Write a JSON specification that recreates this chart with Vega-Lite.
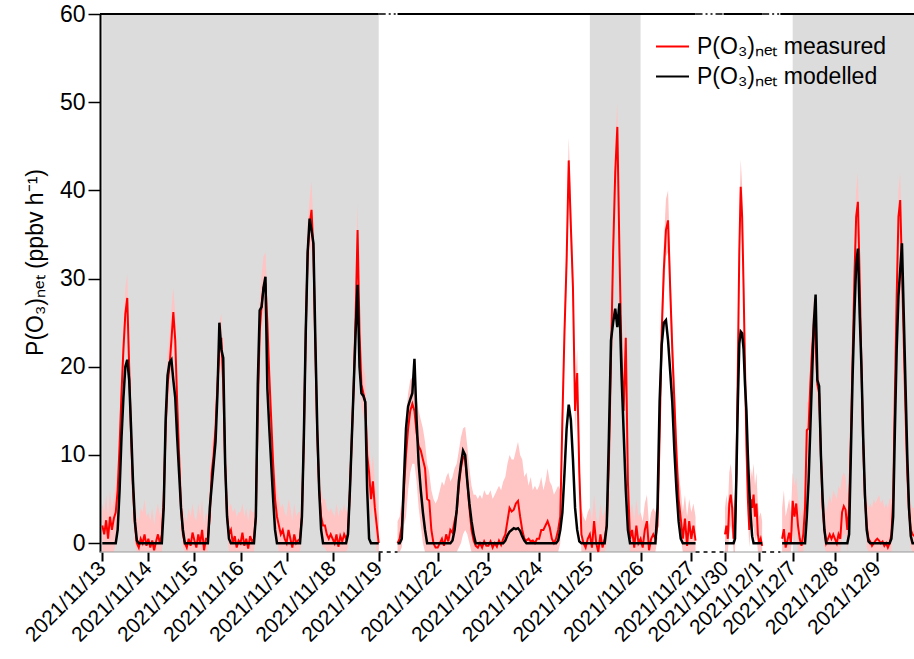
{
"$schema":"https://vega.github.io/schema/vega-lite/v6.json",
"width":814,"height":538,
"autosize":{"type":"none"},
"padding":{"left":100,"top":14,"right":0,"bottom":107},
"background":"white",
"config":{"view":{"stroke":null},"font":"Liberation Sans"},
"datasets":{
"shade":[{"t":"2021-11-13T00:00Z","t2":"2021-11-19T00:00Z"},{"t":"2021-11-25T00:00Z","t2":"2021-11-26T00:00Z"},{"t":"2021-12-07T00:00Z","t2":"2021-12-09T21:00Z"}],
"seg":[{"t":"2021-11-12T22:48Z","t2":"2021-11-19T00:00Z"},{"t":"2021-11-21T05:00Z","t2":"2021-11-27T02:00Z"},{"t":"2021-11-29T23:00Z","t2":"2021-12-01T02:00Z"},{"t":"2021-12-06T17:00Z","t2":"2021-12-09T21:00Z"}],
"gap":[{"t":"2021-11-19T00:00Z","t2":"2021-11-21T05:00Z"},{"t":"2021-11-27T02:00Z","t2":"2021-11-29T23:00Z"},{"t":"2021-12-01T02:00Z","t2":"2021-12-06T17:00Z"}],
"d":[
{"t":"2021-11-13T00:00Z","s":1,"m":2,"md":0,"lo":-1,"hi":4.5},
{"t":"2021-11-13T01:00Z","s":1,"m":1,"md":0,"lo":-1,"hi":3.5},
{"t":"2021-11-13T02:00Z","s":1,"m":2.6,"md":0,"lo":-1,"hi":5.5},
{"t":"2021-11-13T03:00Z","s":1,"m":0.5,"md":0,"lo":-1,"hi":3},
{"t":"2021-11-13T04:00Z","s":1,"m":3,"md":0,"lo":-1,"hi":6},
{"t":"2021-11-13T05:00Z","s":1,"m":1.5,"md":0,"lo":-1,"hi":4},
{"t":"2021-11-13T06:00Z","s":1,"m":2.8,"md":0,"lo":-1,"hi":5},
{"t":"2021-11-13T07:00Z","s":1,"m":3.5,"md":0,"lo":0,"hi":6.5},
{"t":"2021-11-13T08:00Z","s":1,"m":6,"md":1.5,"lo":3.5,"hi":9},
{"t":"2021-11-13T09:00Z","s":1,"m":11,"md":6,"lo":8.5,"hi":14},
{"t":"2021-11-13T10:00Z","s":1,"m":17,"md":12,"lo":14,"hi":20},
{"t":"2021-11-13T11:00Z","s":1,"m":22,"md":16.5,"lo":19,"hi":25},
{"t":"2021-11-13T12:00Z","s":1,"m":26,"md":20,"lo":23,"hi":29},
{"t":"2021-11-13T13:00Z","s":1,"m":27.8,"md":20.8,"lo":25,"hi":30.5},
{"t":"2021-11-13T14:00Z","s":1,"m":20,"md":18.5,"lo":17,"hi":23},
{"t":"2021-11-13T15:00Z","s":1,"m":12,"md":13,"lo":9.5,"hi":15},
{"t":"2021-11-13T16:00Z","s":1,"m":6,"md":7,"lo":4,"hi":9},
{"t":"2021-11-13T17:00Z","s":1,"m":2,"md":2.5,"lo":0,"hi":5},
{"t":"2021-11-13T18:00Z","s":1,"m":0,"md":0.3,"lo":-1,"hi":3},
{"t":"2021-11-13T19:00Z","s":1,"m":-0.5,"md":0,"lo":-1,"hi":2.5},
{"t":"2021-11-13T20:00Z","s":1,"m":0.5,"md":0,"lo":-1,"hi":4},
{"t":"2021-11-13T21:00Z","s":1,"m":0,"md":0,"lo":-1,"hi":3.5},
{"t":"2021-11-13T22:00Z","s":1,"m":1,"md":0,"lo":-1,"hi":5},
{"t":"2021-11-13T23:00Z","s":1,"m":-0.3,"md":0,"lo":-1,"hi":3},
{"t":"2021-11-14T00:00Z","s":1,"m":0.5,"md":0,"lo":-1,"hi":3.5},
{"t":"2021-11-14T01:00Z","s":1,"m":-0.5,"md":0,"lo":-1,"hi":2.5},
{"t":"2021-11-14T02:00Z","s":1,"m":0.3,"md":0,"lo":-1,"hi":4},
{"t":"2021-11-14T03:00Z","s":1,"m":-0.8,"md":0,"lo":-1,"hi":2},
{"t":"2021-11-14T04:00Z","s":1,"m":0.2,"md":0,"lo":-1,"hi":3.5},
{"t":"2021-11-14T05:00Z","s":1,"m":1,"md":0,"lo":-1,"hi":4.5},
{"t":"2021-11-14T06:00Z","s":1,"m":0,"md":0,"lo":-1,"hi":3},
{"t":"2021-11-14T07:00Z","s":1,"m":1,"md":0,"lo":-1,"hi":4},
{"t":"2021-11-14T08:00Z","s":1,"m":5,"md":4,"lo":3,"hi":8},
{"t":"2021-11-14T09:00Z","s":1,"m":13,"md":14,"lo":11,"hi":16},
{"t":"2021-11-14T10:00Z","s":1,"m":18,"md":19,"lo":15.5,"hi":21.5},
{"t":"2021-11-14T11:00Z","s":1,"m":20,"md":20.5,"lo":17,"hi":23.5},
{"t":"2021-11-14T12:00Z","s":1,"m":23,"md":20.8,"lo":20,"hi":26.5},
{"t":"2021-11-14T13:00Z","s":1,"m":26.2,"md":18.5,"lo":23,"hi":29},
{"t":"2021-11-14T14:00Z","s":1,"m":23,"md":16.5,"lo":20,"hi":26},
{"t":"2021-11-14T15:00Z","s":1,"m":16,"md":12,"lo":13.5,"hi":19},
{"t":"2021-11-14T16:00Z","s":1,"m":10,"md":8,"lo":8,"hi":13},
{"t":"2021-11-14T17:00Z","s":1,"m":4,"md":4,"lo":2.5,"hi":7},
{"t":"2021-11-14T18:00Z","s":1,"m":1,"md":1.5,"lo":-0.5,"hi":4},
{"t":"2021-11-14T19:00Z","s":1,"m":0,"md":0,"lo":-1,"hi":3},
{"t":"2021-11-14T20:00Z","s":1,"m":-0.5,"md":0,"lo":-1,"hi":2.5},
{"t":"2021-11-14T21:00Z","s":1,"m":0.5,"md":0,"lo":-1,"hi":4},
{"t":"2021-11-14T22:00Z","s":1,"m":-0.3,"md":0,"lo":-1,"hi":3},
{"t":"2021-11-14T23:00Z","s":1,"m":1.2,"md":0,"lo":-1,"hi":4.5},
{"t":"2021-11-15T00:00Z","s":1,"m":0.3,"md":0,"lo":-1,"hi":3},
{"t":"2021-11-15T01:00Z","s":1,"m":-0.5,"md":0,"lo":-1,"hi":2.5},
{"t":"2021-11-15T02:00Z","s":1,"m":1,"md":0,"lo":-1,"hi":4.5},
{"t":"2021-11-15T03:00Z","s":1,"m":0,"md":0,"lo":-1,"hi":3},
{"t":"2021-11-15T04:00Z","s":1,"m":1.5,"md":0,"lo":-1,"hi":5},
{"t":"2021-11-15T05:00Z","s":1,"m":-0.8,"md":0,"lo":-1,"hi":2},
{"t":"2021-11-15T06:00Z","s":1,"m":0.5,"md":0,"lo":-1,"hi":3.5},
{"t":"2021-11-15T07:00Z","s":1,"m":0.5,"md":0,"lo":-1,"hi":3},
{"t":"2021-11-15T08:00Z","s":1,"m":3,"md":4,"lo":1.5,"hi":6},
{"t":"2021-11-15T09:00Z","s":1,"m":8,"md":6.5,"lo":6,"hi":11},
{"t":"2021-11-15T10:00Z","s":1,"m":10,"md":9,"lo":8,"hi":13},
{"t":"2021-11-15T11:00Z","s":1,"m":13,"md":11.5,"lo":11,"hi":16},
{"t":"2021-11-15T12:00Z","s":1,"m":18,"md":17,"lo":15.5,"hi":21},
{"t":"2021-11-15T13:00Z","s":1,"m":22,"md":25,"lo":19,"hi":25},
{"t":"2021-11-15T14:00Z","s":1,"m":23.3,"md":22,"lo":20.5,"hi":26},
{"t":"2021-11-15T15:00Z","s":1,"m":18,"md":21,"lo":15.5,"hi":21},
{"t":"2021-11-15T16:00Z","s":1,"m":9,"md":9,"lo":7,"hi":12},
{"t":"2021-11-15T17:00Z","s":1,"m":3,"md":3,"lo":1,"hi":6},
{"t":"2021-11-15T18:00Z","s":1,"m":1,"md":0.5,"lo":-1,"hi":4},
{"t":"2021-11-15T19:00Z","s":1,"m":1.5,"md":0,"lo":-1,"hi":4.5},
{"t":"2021-11-15T20:00Z","s":1,"m":0,"md":0,"lo":-1,"hi":3.5},
{"t":"2021-11-15T21:00Z","s":1,"m":0.8,"md":0,"lo":-1,"hi":4},
{"t":"2021-11-15T22:00Z","s":1,"m":-0.5,"md":0,"lo":-1,"hi":3},
{"t":"2021-11-15T23:00Z","s":1,"m":0.3,"md":0,"lo":-1,"hi":3.5},
{"t":"2021-11-16T00:00Z","s":1,"m":0,"md":0,"lo":-1,"hi":3.5},
{"t":"2021-11-16T01:00Z","s":1,"m":1.2,"md":0,"lo":-1,"hi":4.5},
{"t":"2021-11-16T02:00Z","s":1,"m":-0.3,"md":0,"lo":-1,"hi":3},
{"t":"2021-11-16T03:00Z","s":1,"m":0.5,"md":0,"lo":-1,"hi":4},
{"t":"2021-11-16T04:00Z","s":1,"m":-0.6,"md":0,"lo":-1,"hi":2.5},
{"t":"2021-11-16T05:00Z","s":1,"m":0.8,"md":0,"lo":-1,"hi":4},
{"t":"2021-11-16T06:00Z","s":1,"m":0.2,"md":0,"lo":-1,"hi":3.5},
{"t":"2021-11-16T07:00Z","s":1,"m":0.5,"md":0,"lo":-1,"hi":3.5},
{"t":"2021-11-16T08:00Z","s":1,"m":3,"md":3,"lo":1.5,"hi":6},
{"t":"2021-11-16T09:00Z","s":1,"m":15,"md":18,"lo":12.5,"hi":18},
{"t":"2021-11-16T10:00Z","s":1,"m":24,"md":26.4,"lo":21,"hi":27.5},
{"t":"2021-11-16T11:00Z","s":1,"m":27,"md":26.8,"lo":24,"hi":30.5},
{"t":"2021-11-16T12:00Z","s":1,"m":29,"md":29,"lo":26,"hi":32.5},
{"t":"2021-11-16T13:00Z","s":1,"m":29.5,"md":30.2,"lo":26.5,"hi":33},
{"t":"2021-11-16T14:00Z","s":1,"m":25,"md":17.5,"lo":22,"hi":28},
{"t":"2021-11-16T15:00Z","s":1,"m":19,"md":13,"lo":16.5,"hi":22},
{"t":"2021-11-16T16:00Z","s":1,"m":14,"md":9,"lo":11.5,"hi":17},
{"t":"2021-11-16T17:00Z","s":1,"m":9,"md":5,"lo":7,"hi":12},
{"t":"2021-11-16T18:00Z","s":1,"m":5,"md":1.5,"lo":3,"hi":8},
{"t":"2021-11-16T19:00Z","s":1,"m":3,"md":0,"lo":0.5,"hi":6},
{"t":"2021-11-16T20:00Z","s":1,"m":2,"md":0,"lo":-1,"hi":5},
{"t":"2021-11-16T21:00Z","s":1,"m":1,"md":0,"lo":-1,"hi":4},
{"t":"2021-11-16T22:00Z","s":1,"m":1.5,"md":0,"lo":-1,"hi":4.5},
{"t":"2021-11-16T23:00Z","s":1,"m":0.5,"md":0,"lo":-1,"hi":3.5},
{"t":"2021-11-17T00:00Z","s":1,"m":0,"md":0,"lo":-1,"hi":3},
{"t":"2021-11-17T01:00Z","s":1,"m":1.5,"md":0,"lo":-1,"hi":5},
{"t":"2021-11-17T02:00Z","s":1,"m":0.5,"md":0,"lo":-1,"hi":4},
{"t":"2021-11-17T03:00Z","s":1,"m":-0.5,"md":0,"lo":-1,"hi":2.5},
{"t":"2021-11-17T04:00Z","s":1,"m":1,"md":0,"lo":-1,"hi":4.5},
{"t":"2021-11-17T05:00Z","s":1,"m":0,"md":0,"lo":-1,"hi":3},
{"t":"2021-11-17T06:00Z","s":1,"m":0.3,"md":0,"lo":-1,"hi":3.5},
{"t":"2021-11-17T07:00Z","s":1,"m":0.5,"md":0,"lo":-1,"hi":3.5},
{"t":"2021-11-17T08:00Z","s":1,"m":3,"md":3,"lo":1,"hi":6},
{"t":"2021-11-17T09:00Z","s":1,"m":12,"md":12,"lo":10,"hi":15},
{"t":"2021-11-17T10:00Z","s":1,"m":24,"md":24,"lo":21,"hi":27},
{"t":"2021-11-17T11:00Z","s":1,"m":33,"md":33,"lo":29.5,"hi":36.5},
{"t":"2021-11-17T12:00Z","s":1,"m":36,"md":36.8,"lo":32.5,"hi":39},
{"t":"2021-11-17T13:00Z","s":1,"m":37.8,"md":35.5,"lo":34,"hi":41},
{"t":"2021-11-17T14:00Z","s":1,"m":33,"md":34,"lo":29.5,"hi":36},
{"t":"2021-11-17T15:00Z","s":1,"m":22,"md":23,"lo":19,"hi":25},
{"t":"2021-11-17T16:00Z","s":1,"m":12,"md":13,"lo":10,"hi":15},
{"t":"2021-11-17T17:00Z","s":1,"m":6,"md":6,"lo":4,"hi":9},
{"t":"2021-11-17T18:00Z","s":1,"m":3,"md":1.5,"lo":1,"hi":6},
{"t":"2021-11-17T19:00Z","s":1,"m":2,"md":0,"lo":-0.5,"hi":5},
{"t":"2021-11-17T20:00Z","s":1,"m":2,"md":0,"lo":-0.5,"hi":5},
{"t":"2021-11-17T21:00Z","s":1,"m":1,"md":0,"lo":-1,"hi":4},
{"t":"2021-11-17T22:00Z","s":1,"m":0.5,"md":0,"lo":-1,"hi":3.5},
{"t":"2021-11-17T23:00Z","s":1,"m":1,"md":0,"lo":-1,"hi":4},
{"t":"2021-11-18T00:00Z","s":1,"m":0.5,"md":0,"lo":-1,"hi":3.5},
{"t":"2021-11-18T01:00Z","s":1,"m":0,"md":0,"lo":-1,"hi":3},
{"t":"2021-11-18T02:00Z","s":1,"m":1,"md":0,"lo":-1,"hi":4.5},
{"t":"2021-11-18T03:00Z","s":1,"m":-0.4,"md":0,"lo":-1,"hi":3},
{"t":"2021-11-18T04:00Z","s":1,"m":0.8,"md":0,"lo":-1,"hi":4},
{"t":"2021-11-18T05:00Z","s":1,"m":0.2,"md":0,"lo":-1,"hi":3.5},
{"t":"2021-11-18T06:00Z","s":1,"m":1,"md":0,"lo":-1,"hi":4.5},
{"t":"2021-11-18T07:00Z","s":1,"m":0.5,"md":0,"lo":-1,"hi":3.5},
{"t":"2021-11-18T08:00Z","s":1,"m":1,"md":1,"lo":-0.5,"hi":4},
{"t":"2021-11-18T09:00Z","s":1,"m":6,"md":6,"lo":4,"hi":9},
{"t":"2021-11-18T10:00Z","s":1,"m":12,"md":12,"lo":10,"hi":15},
{"t":"2021-11-18T11:00Z","s":1,"m":18,"md":18,"lo":15.5,"hi":21.5},
{"t":"2021-11-18T12:00Z","s":1,"m":26,"md":24,"lo":22.5,"hi":29},
{"t":"2021-11-18T13:00Z","s":1,"m":35.5,"md":29.3,"lo":31,"hi":38.5},
{"t":"2021-11-18T14:00Z","s":1,"m":24,"md":20,"lo":21,"hi":27},
{"t":"2021-11-18T15:00Z","s":1,"m":18,"md":17,"lo":15.5,"hi":21},
{"t":"2021-11-18T16:00Z","s":1,"m":17,"md":16.7,"lo":14.5,"hi":20},
{"t":"2021-11-18T17:00Z","s":1,"m":16,"md":16,"lo":13.5,"hi":19},
{"t":"2021-11-18T18:00Z","s":1,"m":10,"md":6,"lo":7.5,"hi":13},
{"t":"2021-11-18T19:00Z","s":1,"m":8,"md":0.5,"lo":5.5,"hi":11},
{"t":"2021-11-18T20:00Z","s":1,"m":5,"md":0,"lo":2.5,"hi":8},
{"t":"2021-11-18T21:00Z","s":1,"m":7,"md":0,"lo":4.5,"hi":10},
{"t":"2021-11-18T22:00Z","s":1,"m":4,"md":0,"lo":1.5,"hi":7},
{"t":"2021-11-18T23:00Z","s":1,"m":2,"md":0,"lo":-1,"hi":5},
{"t":"2021-11-19T00:00Z","s":1,"m":0,"md":0,"lo":-1,"hi":3},
{"t":"2021-11-21T05:00Z","s":2,"m":0,"md":0,"lo":-1,"hi":2.5},
{"t":"2021-11-21T06:00Z","s":2,"m":0.5,"md":0,"lo":-1,"hi":3},
{"t":"2021-11-21T07:00Z","s":2,"m":2,"md":0.5,"lo":-0.5,"hi":5},
{"t":"2021-11-21T08:00Z","s":2,"m":6,"md":7,"lo":2,"hi":10},
{"t":"2021-11-21T09:00Z","s":2,"m":10,"md":13,"lo":3,"hi":14.5},
{"t":"2021-11-21T10:00Z","s":2,"m":13,"md":15.5,"lo":6,"hi":17},
{"t":"2021-11-21T11:00Z","s":2,"m":15,"md":16.3,"lo":8,"hi":18.5},
{"t":"2021-11-21T12:00Z","s":2,"m":15.8,"md":17,"lo":9,"hi":18.8},
{"t":"2021-11-21T13:00Z","s":2,"m":15,"md":20.9,"lo":9,"hi":18.5},
{"t":"2021-11-21T14:00Z","s":2,"m":12.5,"md":14,"lo":7,"hi":16.5},
{"t":"2021-11-21T15:00Z","s":2,"m":11,"md":9,"lo":4,"hi":15},
{"t":"2021-11-21T16:00Z","s":2,"m":10.5,"md":6,"lo":2,"hi":14},
{"t":"2021-11-21T17:00Z","s":2,"m":9.5,"md":3.5,"lo":0,"hi":13},
{"t":"2021-11-21T18:00Z","s":2,"m":8.5,"md":1.5,"lo":-1,"hi":11.5},
{"t":"2021-11-21T19:00Z","s":2,"m":5,"md":0,"lo":-1,"hi":9},
{"t":"2021-11-21T20:00Z","s":2,"m":4.8,"md":0,"lo":-1,"hi":8},
{"t":"2021-11-21T21:00Z","s":2,"m":1.5,"md":0,"lo":-1,"hi":6},
{"t":"2021-11-21T22:00Z","s":2,"m":0,"md":0,"lo":-1,"hi":5},
{"t":"2021-11-21T23:00Z","s":2,"m":-0.5,"md":0,"lo":-1,"hi":4.5},
{"t":"2021-11-22T00:00Z","s":2,"m":-0.5,"md":0,"lo":-1,"hi":5},
{"t":"2021-11-22T01:00Z","s":2,"m":0,"md":0,"lo":-1,"hi":6},
{"t":"2021-11-22T02:00Z","s":2,"m":0.5,"md":0,"lo":-1,"hi":7},
{"t":"2021-11-22T03:00Z","s":2,"m":-0.3,"md":0,"lo":-1,"hi":6.5},
{"t":"2021-11-22T04:00Z","s":2,"m":1,"md":0,"lo":-1,"hi":7.5},
{"t":"2021-11-22T05:00Z","s":2,"m":0.2,"md":0,"lo":-1,"hi":8},
{"t":"2021-11-22T06:00Z","s":2,"m":1.5,"md":0,"lo":-1,"hi":7},
{"t":"2021-11-22T07:00Z","s":2,"m":1.2,"md":0.3,"lo":-1,"hi":7.5},
{"t":"2021-11-22T08:00Z","s":2,"m":2.5,"md":1.5,"lo":-1,"hi":8.5},
{"t":"2021-11-22T09:00Z","s":2,"m":3.5,"md":3.8,"lo":-1,"hi":9},
{"t":"2021-11-22T10:00Z","s":2,"m":6.5,"md":7,"lo":-0.5,"hi":10.5},
{"t":"2021-11-22T11:00Z","s":2,"m":8.5,"md":9,"lo":0,"hi":12},
{"t":"2021-11-22T12:00Z","s":2,"m":9.8,"md":10.5,"lo":1,"hi":13},
{"t":"2021-11-22T13:00Z","s":2,"m":9.5,"md":10,"lo":1.5,"hi":13.2},
{"t":"2021-11-22T14:00Z","s":2,"m":7,"md":7,"lo":1,"hi":11},
{"t":"2021-11-22T15:00Z","s":2,"m":4,"md":4.5,"lo":0,"hi":8.5},
{"t":"2021-11-22T16:00Z","s":2,"m":1.5,"md":2.5,"lo":-1,"hi":6.5},
{"t":"2021-11-22T17:00Z","s":2,"m":0.3,"md":1,"lo":-1,"hi":5.5},
{"t":"2021-11-22T18:00Z","s":2,"m":-0.3,"md":0,"lo":-1,"hi":5.5},
{"t":"2021-11-22T19:00Z","s":2,"m":-0.5,"md":0,"lo":-1,"hi":5},
{"t":"2021-11-22T20:00Z","s":2,"m":0,"md":0,"lo":-1,"hi":5.5},
{"t":"2021-11-22T21:00Z","s":2,"m":-0.5,"md":0,"lo":-1,"hi":5},
{"t":"2021-11-22T22:00Z","s":2,"m":0.2,"md":0,"lo":-1,"hi":6},
{"t":"2021-11-22T23:00Z","s":2,"m":-0.3,"md":0,"lo":-1,"hi":5.5},
{"t":"2021-11-23T00:00Z","s":2,"m":-0.3,"md":0,"lo":-1,"hi":5.5},
{"t":"2021-11-23T01:00Z","s":2,"m":0.2,"md":0,"lo":-1,"hi":6},
{"t":"2021-11-23T02:00Z","s":2,"m":-0.5,"md":0,"lo":-1,"hi":5},
{"t":"2021-11-23T03:00Z","s":2,"m":0,"md":0,"lo":-1,"hi":5.5},
{"t":"2021-11-23T04:00Z","s":2,"m":-0.4,"md":0,"lo":-1,"hi":6},
{"t":"2021-11-23T05:00Z","s":2,"m":0.3,"md":0,"lo":-1,"hi":6.5},
{"t":"2021-11-23T06:00Z","s":2,"m":-0.2,"md":0,"lo":-1,"hi":6},
{"t":"2021-11-23T07:00Z","s":2,"m":0.5,"md":0,"lo":-1,"hi":7},
{"t":"2021-11-23T08:00Z","s":2,"m":1,"md":0.3,"lo":-1,"hi":7.5},
{"t":"2021-11-23T09:00Z","s":2,"m":2.5,"md":0.9,"lo":-1,"hi":9},
{"t":"2021-11-23T10:00Z","s":2,"m":4,"md":1.3,"lo":-1,"hi":10},
{"t":"2021-11-23T11:00Z","s":2,"m":3.6,"md":1.5,"lo":-1,"hi":9.5},
{"t":"2021-11-23T12:00Z","s":2,"m":3.8,"md":1.7,"lo":-1,"hi":9.5},
{"t":"2021-11-23T13:00Z","s":2,"m":4.5,"md":1.6,"lo":-1,"hi":10.5},
{"t":"2021-11-23T14:00Z","s":2,"m":4.8,"md":1.7,"lo":-1,"hi":11.5},
{"t":"2021-11-23T15:00Z","s":2,"m":3,"md":1.4,"lo":-1,"hi":10},
{"t":"2021-11-23T16:00Z","s":2,"m":1.5,"md":0.8,"lo":-1,"hi":9.5},
{"t":"2021-11-23T17:00Z","s":2,"m":0.5,"md":0.3,"lo":-1,"hi":7.5},
{"t":"2021-11-23T18:00Z","s":2,"m":0.3,"md":0,"lo":-1,"hi":8},
{"t":"2021-11-23T19:00Z","s":2,"m":0.5,"md":0,"lo":-1,"hi":6.5},
{"t":"2021-11-23T20:00Z","s":2,"m":0.2,"md":0,"lo":-1,"hi":7.5},
{"t":"2021-11-23T21:00Z","s":2,"m":0.3,"md":0,"lo":-1,"hi":6},
{"t":"2021-11-23T22:00Z","s":2,"m":0,"md":0,"lo":-1,"hi":6.5},
{"t":"2021-11-23T23:00Z","s":2,"m":0.5,"md":0,"lo":-1,"hi":6},
{"t":"2021-11-24T00:00Z","s":2,"m":0.5,"md":0,"lo":-1,"hi":6.5},
{"t":"2021-11-24T01:00Z","s":2,"m":1.5,"md":0,"lo":-1,"hi":7.5},
{"t":"2021-11-24T02:00Z","s":2,"m":1.5,"md":0,"lo":-1,"hi":6},
{"t":"2021-11-24T03:00Z","s":2,"m":2,"md":0,"lo":-1,"hi":7},
{"t":"2021-11-24T04:00Z","s":2,"m":2.5,"md":0,"lo":-1,"hi":8.5},
{"t":"2021-11-24T05:00Z","s":2,"m":1.8,"md":0,"lo":-1,"hi":7},
{"t":"2021-11-24T06:00Z","s":2,"m":0.5,"md":0,"lo":-1,"hi":6.5},
{"t":"2021-11-24T07:00Z","s":2,"m":0,"md":0,"lo":-1,"hi":5.5},
{"t":"2021-11-24T08:00Z","s":2,"m":0.5,"md":0,"lo":-1,"hi":6},
{"t":"2021-11-24T09:00Z","s":2,"m":1.5,"md":0.3,"lo":-1,"hi":6.5},
{"t":"2021-11-24T10:00Z","s":2,"m":3,"md":1.5,"lo":0,"hi":6},
{"t":"2021-11-24T11:00Z","s":2,"m":14,"md":3.5,"lo":11.5,"hi":17},
{"t":"2021-11-24T12:00Z","s":2,"m":24,"md":8,"lo":21.5,"hi":27},
{"t":"2021-11-24T13:00Z","s":2,"m":32,"md":13,"lo":29,"hi":35},
{"t":"2021-11-24T14:00Z","s":2,"m":43.4,"md":15.7,"lo":40,"hi":46},
{"t":"2021-11-24T15:00Z","s":2,"m":36,"md":14,"lo":33,"hi":39},
{"t":"2021-11-24T16:00Z","s":2,"m":29,"md":9.5,"lo":26,"hi":32},
{"t":"2021-11-24T17:00Z","s":2,"m":15,"md":4,"lo":12.5,"hi":18},
{"t":"2021-11-24T18:00Z","s":2,"m":19.3,"md":1.5,"lo":16.5,"hi":22},
{"t":"2021-11-24T19:00Z","s":2,"m":8,"md":0.2,"lo":6,"hi":11},
{"t":"2021-11-24T20:00Z","s":2,"m":1,"md":0,"lo":-1,"hi":4},
{"t":"2021-11-24T21:00Z","s":2,"m":0,"md":0,"lo":-1,"hi":3},
{"t":"2021-11-24T22:00Z","s":2,"m":-0.5,"md":0,"lo":-1,"hi":2.5},
{"t":"2021-11-24T23:00Z","s":2,"m":0.5,"md":0,"lo":-1,"hi":3.5},
{"t":"2021-11-25T00:00Z","s":2,"m":1,"md":0,"lo":-1,"hi":4},
{"t":"2021-11-25T01:00Z","s":2,"m":-0.5,"md":0,"lo":-1,"hi":2.5},
{"t":"2021-11-25T02:00Z","s":2,"m":2.5,"md":0,"lo":-1,"hi":5.5},
{"t":"2021-11-25T03:00Z","s":2,"m":0,"md":0,"lo":-1,"hi":3},
{"t":"2021-11-25T04:00Z","s":2,"m":-1,"md":0,"lo":-1,"hi":2},
{"t":"2021-11-25T05:00Z","s":2,"m":1,"md":0,"lo":-1,"hi":4.5},
{"t":"2021-11-25T06:00Z","s":2,"m":-0.5,"md":0,"lo":-1,"hi":3},
{"t":"2021-11-25T07:00Z","s":2,"m":0.5,"md":0,"lo":-1,"hi":3.5},
{"t":"2021-11-25T08:00Z","s":2,"m":2,"md":2,"lo":0,"hi":5},
{"t":"2021-11-25T09:00Z","s":2,"m":9,"md":12,"lo":7,"hi":12},
{"t":"2021-11-25T10:00Z","s":2,"m":21,"md":23,"lo":18.5,"hi":24},
{"t":"2021-11-25T11:00Z","s":2,"m":33,"md":25,"lo":29.5,"hi":36},
{"t":"2021-11-25T12:00Z","s":2,"m":42,"md":26.6,"lo":38,"hi":45.5},
{"t":"2021-11-25T13:00Z","s":2,"m":47.2,"md":24.5,"lo":43,"hi":50},
{"t":"2021-11-25T14:00Z","s":2,"m":33,"md":27.2,"lo":29.5,"hi":36},
{"t":"2021-11-25T15:00Z","s":2,"m":21,"md":19,"lo":18,"hi":24},
{"t":"2021-11-25T16:00Z","s":2,"m":15,"md":12.5,"lo":12.5,"hi":18},
{"t":"2021-11-25T17:00Z","s":2,"m":23.3,"md":6,"lo":20,"hi":26},
{"t":"2021-11-25T18:00Z","s":2,"m":7,"md":1.5,"lo":5,"hi":10},
{"t":"2021-11-25T19:00Z","s":2,"m":0.5,"md":0,"lo":-1,"hi":3.5},
{"t":"2021-11-25T20:00Z","s":2,"m":1.5,"md":0,"lo":-1,"hi":4.5},
{"t":"2021-11-25T21:00Z","s":2,"m":-0.5,"md":0,"lo":-1,"hi":2.5},
{"t":"2021-11-25T22:00Z","s":2,"m":2,"md":0,"lo":-1,"hi":5},
{"t":"2021-11-25T23:00Z","s":2,"m":0,"md":0,"lo":-1,"hi":3},
{"t":"2021-11-26T00:00Z","s":2,"m":0.5,"md":0,"lo":-1,"hi":3.5},
{"t":"2021-11-26T01:00Z","s":2,"m":-0.5,"md":0,"lo":-1,"hi":2.5},
{"t":"2021-11-26T02:00Z","s":2,"m":1.5,"md":0,"lo":-1,"hi":4.5},
{"t":"2021-11-26T03:00Z","s":2,"m":2.5,"md":0,"lo":-1,"hi":5.5},
{"t":"2021-11-26T04:00Z","s":2,"m":-0.8,"md":0,"lo":-1,"hi":2},
{"t":"2021-11-26T05:00Z","s":2,"m":0.5,"md":0,"lo":-1,"hi":3.5},
{"t":"2021-11-26T06:00Z","s":2,"m":1,"md":0,"lo":-1,"hi":4},
{"t":"2021-11-26T07:00Z","s":2,"m":0.5,"md":0,"lo":-1,"hi":3.5},
{"t":"2021-11-26T08:00Z","s":2,"m":2,"md":4,"lo":0.5,"hi":5},
{"t":"2021-11-26T09:00Z","s":2,"m":12,"md":16,"lo":10,"hi":15},
{"t":"2021-11-26T10:00Z","s":2,"m":24,"md":22.5,"lo":21,"hi":27},
{"t":"2021-11-26T11:00Z","s":2,"m":31,"md":25,"lo":28,"hi":34},
{"t":"2021-11-26T12:00Z","s":2,"m":35.5,"md":25.3,"lo":32.5,"hi":39},
{"t":"2021-11-26T13:00Z","s":2,"m":36.6,"md":23,"lo":33,"hi":40},
{"t":"2021-11-26T14:00Z","s":2,"m":29,"md":19.5,"lo":26,"hi":32},
{"t":"2021-11-26T15:00Z","s":2,"m":22,"md":16,"lo":19,"hi":25},
{"t":"2021-11-26T16:00Z","s":2,"m":16,"md":10.5,"lo":13.5,"hi":19},
{"t":"2021-11-26T17:00Z","s":2,"m":10,"md":6,"lo":8,"hi":13},
{"t":"2021-11-26T18:00Z","s":2,"m":5,"md":2.5,"lo":3,"hi":8},
{"t":"2021-11-26T19:00Z","s":2,"m":2.8,"md":0.5,"lo":0.5,"hi":6},
{"t":"2021-11-26T20:00Z","s":2,"m":0.5,"md":0,"lo":-1,"hi":3.5},
{"t":"2021-11-26T21:00Z","s":2,"m":2.8,"md":0,"lo":-1,"hi":5.5},
{"t":"2021-11-26T22:00Z","s":2,"m":-0.3,"md":0,"lo":-1,"hi":3},
{"t":"2021-11-26T23:00Z","s":2,"m":2.5,"md":0,"lo":-1,"hi":5},
{"t":"2021-11-27T00:00Z","s":2,"m":0.5,"md":0,"lo":-1,"hi":3.5},
{"t":"2021-11-27T01:00Z","s":2,"m":2,"md":0,"lo":-1,"hi":4.5},
{"t":"2021-11-27T02:00Z","s":2,"m":0.3,"md":0,"lo":-1,"hi":3},
{"t":"2021-11-30T00:00Z","s":3,"m":1,"md":0,"lo":-1,"hi":4},
{"t":"2021-11-30T01:00Z","s":3,"m":2,"md":0,"lo":-1,"hi":5.5},
{"t":"2021-11-30T02:00Z","s":3,"m":0.5,"md":0,"lo":-1,"hi":4},
{"t":"2021-11-30T03:00Z","s":3,"m":4.5,"md":0,"lo":1,"hi":8},
{"t":"2021-11-30T04:00Z","s":3,"m":5.5,"md":0,"lo":2,"hi":9},
{"t":"2021-11-30T05:00Z","s":3,"m":4,"md":0,"lo":1,"hi":7.5},
{"t":"2021-11-30T06:00Z","s":3,"m":0.5,"md":0,"lo":-1,"hi":4},
{"t":"2021-11-30T07:00Z","s":3,"m":2,"md":0.5,"lo":-1,"hi":5},
{"t":"2021-11-30T08:00Z","s":3,"m":8,"md":8,"lo":5.5,"hi":11},
{"t":"2021-11-30T09:00Z","s":3,"m":20,"md":16,"lo":17,"hi":23},
{"t":"2021-11-30T10:00Z","s":3,"m":33,"md":22.6,"lo":29.5,"hi":36.5},
{"t":"2021-11-30T11:00Z","s":3,"m":40.4,"md":24,"lo":37,"hi":43.5},
{"t":"2021-11-30T12:00Z","s":3,"m":37,"md":23.8,"lo":33.5,"hi":40.5},
{"t":"2021-11-30T13:00Z","s":3,"m":29,"md":22,"lo":26,"hi":32},
{"t":"2021-11-30T14:00Z","s":3,"m":20,"md":18,"lo":17,"hi":23},
{"t":"2021-11-30T15:00Z","s":3,"m":11,"md":15,"lo":8.5,"hi":14},
{"t":"2021-11-30T16:00Z","s":3,"m":5,"md":10,"lo":3,"hi":8},
{"t":"2021-11-30T17:00Z","s":3,"m":1.5,"md":6,"lo":-0.5,"hi":5},
{"t":"2021-11-30T18:00Z","s":3,"m":5,"md":3,"lo":2,"hi":8.5},
{"t":"2021-11-30T19:00Z","s":3,"m":4,"md":0.8,"lo":1,"hi":7.5},
{"t":"2021-11-30T20:00Z","s":3,"m":5.5,"md":0,"lo":2,"hi":9},
{"t":"2021-11-30T21:00Z","s":3,"m":3,"md":0,"lo":0,"hi":6.5},
{"t":"2021-11-30T22:00Z","s":3,"m":4.5,"md":0,"lo":1,"hi":8},
{"t":"2021-11-30T23:00Z","s":3,"m":1,"md":0,"lo":-1,"hi":4.5},
{"t":"2021-12-01T00:00Z","s":3,"m":0,"md":0,"lo":-1,"hi":3},
{"t":"2021-12-01T01:00Z","s":3,"m":0.5,"md":0,"lo":-1,"hi":3.5},
{"t":"2021-12-01T02:00Z","s":3,"m":-0.3,"md":0,"lo":-1,"hi":2.5},
{"t":"2021-12-06T18:00Z","s":4,"m":0.5,"md":0,"lo":-1,"hi":4},
{"t":"2021-12-06T19:00Z","s":4,"m":1.6,"md":0,"lo":-1,"hi":6},
{"t":"2021-12-06T20:00Z","s":4,"m":-0.5,"md":0,"lo":-1,"hi":3},
{"t":"2021-12-06T21:00Z","s":4,"m":0.3,"md":0,"lo":-1,"hi":4},
{"t":"2021-12-06T22:00Z","s":4,"m":1.2,"md":0,"lo":-1,"hi":5},
{"t":"2021-12-06T23:00Z","s":4,"m":0,"md":0,"lo":-1,"hi":3.5},
{"t":"2021-12-07T00:00Z","s":4,"m":4.8,"md":0,"lo":1.5,"hi":8},
{"t":"2021-12-07T01:00Z","s":4,"m":3,"md":0,"lo":0,"hi":6.5},
{"t":"2021-12-07T02:00Z","s":4,"m":4.5,"md":0,"lo":1.5,"hi":7.5},
{"t":"2021-12-07T03:00Z","s":4,"m":2,"md":0,"lo":-1,"hi":5},
{"t":"2021-12-07T04:00Z","s":4,"m":0.5,"md":0,"lo":-1,"hi":4},
{"t":"2021-12-07T05:00Z","s":4,"m":-0.3,"md":0,"lo":-1,"hi":3},
{"t":"2021-12-07T06:00Z","s":4,"m":1,"md":0,"lo":-1,"hi":4.5},
{"t":"2021-12-07T07:00Z","s":4,"m":4,"md":0,"lo":1,"hi":7},
{"t":"2021-12-07T08:00Z","s":4,"m":12.8,"md":3,"lo":10,"hi":16},
{"t":"2021-12-07T09:00Z","s":4,"m":13,"md":7,"lo":10.5,"hi":16},
{"t":"2021-12-07T10:00Z","s":4,"m":18,"md":13,"lo":15,"hi":21},
{"t":"2021-12-07T11:00Z","s":4,"m":22,"md":19,"lo":19,"hi":25},
{"t":"2021-12-07T12:00Z","s":4,"m":24.9,"md":25,"lo":21.5,"hi":28},
{"t":"2021-12-07T13:00Z","s":4,"m":23,"md":28.2,"lo":20,"hi":26},
{"t":"2021-12-07T14:00Z","s":4,"m":18,"md":18.5,"lo":15.5,"hi":21},
{"t":"2021-12-07T15:00Z","s":4,"m":17,"md":17.8,"lo":14.5,"hi":20},
{"t":"2021-12-07T16:00Z","s":4,"m":10,"md":10,"lo":7.5,"hi":13},
{"t":"2021-12-07T17:00Z","s":4,"m":4,"md":5,"lo":2,"hi":7},
{"t":"2021-12-07T18:00Z","s":4,"m":1.5,"md":1.5,"lo":-0.5,"hi":4.5},
{"t":"2021-12-07T19:00Z","s":4,"m":0,"md":0,"lo":-1,"hi":3.5},
{"t":"2021-12-07T20:00Z","s":4,"m":0.5,"md":0,"lo":-1,"hi":4.5},
{"t":"2021-12-07T21:00Z","s":4,"m":1,"md":0,"lo":-1,"hi":5.5},
{"t":"2021-12-07T22:00Z","s":4,"m":0.5,"md":0,"lo":-1,"hi":4.5},
{"t":"2021-12-07T23:00Z","s":4,"m":1,"md":0,"lo":-1,"hi":6},
{"t":"2021-12-08T00:00Z","s":4,"m":0.5,"md":0,"lo":-1,"hi":5.5},
{"t":"2021-12-08T01:00Z","s":4,"m":0,"md":0,"lo":-1,"hi":5},
{"t":"2021-12-08T02:00Z","s":4,"m":1,"md":0,"lo":-1,"hi":6.5},
{"t":"2021-12-08T03:00Z","s":4,"m":0.5,"md":0,"lo":-1,"hi":6},
{"t":"2021-12-08T04:00Z","s":4,"m":3.5,"md":0,"lo":0.5,"hi":7.5},
{"t":"2021-12-08T05:00Z","s":4,"m":4.2,"md":0,"lo":1,"hi":8},
{"t":"2021-12-08T06:00Z","s":4,"m":3.8,"md":0,"lo":1,"hi":7.5},
{"t":"2021-12-08T07:00Z","s":4,"m":1.5,"md":0,"lo":-1,"hi":5.5},
{"t":"2021-12-08T08:00Z","s":4,"m":4,"md":1,"lo":1.5,"hi":7},
{"t":"2021-12-08T09:00Z","s":4,"m":12,"md":10,"lo":9.5,"hi":15},
{"t":"2021-12-08T10:00Z","s":4,"m":21,"md":19,"lo":18,"hi":24},
{"t":"2021-12-08T11:00Z","s":4,"m":30,"md":26,"lo":27,"hi":33},
{"t":"2021-12-08T12:00Z","s":4,"m":37,"md":31.5,"lo":33.5,"hi":40},
{"t":"2021-12-08T13:00Z","s":4,"m":38.7,"md":33.4,"lo":35,"hi":42},
{"t":"2021-12-08T14:00Z","s":4,"m":30,"md":26,"lo":27,"hi":33},
{"t":"2021-12-08T15:00Z","s":4,"m":20,"md":20,"lo":17,"hi":23},
{"t":"2021-12-08T16:00Z","s":4,"m":11,"md":12,"lo":9,"hi":14},
{"t":"2021-12-08T17:00Z","s":4,"m":5,"md":5.5,"lo":3,"hi":8},
{"t":"2021-12-08T18:00Z","s":4,"m":2,"md":1.5,"lo":-0.5,"hi":5},
{"t":"2021-12-08T19:00Z","s":4,"m":0.5,"md":0.2,"lo":-1,"hi":4},
{"t":"2021-12-08T20:00Z","s":4,"m":0.2,"md":0,"lo":-1,"hi":4.5},
{"t":"2021-12-08T21:00Z","s":4,"m":-0.3,"md":0,"lo":-1,"hi":4},
{"t":"2021-12-08T22:00Z","s":4,"m":0,"md":0,"lo":-1,"hi":5},
{"t":"2021-12-08T23:00Z","s":4,"m":0.3,"md":0,"lo":-1,"hi":4.5},
{"t":"2021-12-09T00:00Z","s":4,"m":0.5,"md":0,"lo":-1,"hi":5},
{"t":"2021-12-09T01:00Z","s":4,"m":0.3,"md":0,"lo":-1,"hi":5.5},
{"t":"2021-12-09T02:00Z","s":4,"m":0,"md":0,"lo":-1,"hi":4.5},
{"t":"2021-12-09T03:00Z","s":4,"m":0.2,"md":0,"lo":-1,"hi":5},
{"t":"2021-12-09T04:00Z","s":4,"m":-0.3,"md":0,"lo":-1,"hi":4},
{"t":"2021-12-09T05:00Z","s":4,"m":0,"md":0,"lo":-1,"hi":4.5},
{"t":"2021-12-09T06:00Z","s":4,"m":-0.5,"md":0,"lo":-1,"hi":4},
{"t":"2021-12-09T07:00Z","s":4,"m":0,"md":0,"lo":-1,"hi":5},
{"t":"2021-12-09T08:00Z","s":4,"m":1,"md":0.5,"lo":-1,"hi":5},
{"t":"2021-12-09T09:00Z","s":4,"m":5,"md":3,"lo":3,"hi":8},
{"t":"2021-12-09T10:00Z","s":4,"m":17,"md":13,"lo":14,"hi":20},
{"t":"2021-12-09T11:00Z","s":4,"m":28,"md":22,"lo":25,"hi":31},
{"t":"2021-12-09T12:00Z","s":4,"m":37,"md":28,"lo":33.5,"hi":40},
{"t":"2021-12-09T13:00Z","s":4,"m":38.9,"md":31,"lo":35,"hi":42},
{"t":"2021-12-09T14:00Z","s":4,"m":31,"md":34,"lo":28,"hi":34},
{"t":"2021-12-09T15:00Z","s":4,"m":23,"md":26,"lo":20,"hi":26},
{"t":"2021-12-09T16:00Z","s":4,"m":15,"md":18,"lo":12.5,"hi":18},
{"t":"2021-12-09T17:00Z","s":4,"m":8,"md":10,"lo":6,"hi":11},
{"t":"2021-12-09T18:00Z","s":4,"m":3.5,"md":4,"lo":1.5,"hi":6.5},
{"t":"2021-12-09T19:00Z","s":4,"m":1.5,"md":0.8,"lo":-0.5,"hi":4.5},
{"t":"2021-12-09T20:00Z","s":4,"m":1,"md":0,"lo":-1,"hi":4},
{"t":"2021-12-09T21:00Z","s":4,"m":0.8,"md":0,"lo":-1,"hi":4}
]},
"encoding":{
 "x":{"field":"t","type":"quantitative",
  "scale":{"type":"linear","zero":false,"nice":false,"domain":[1636757280000,1637280000000,1637470800000,1637978400000,1638226800000,1638324000000,1638810000000,1639083600000],"range":[0,278.7,297.55,595.53,623.57,662.16,680.36,814.31]},
  "axis":{"values":[1636761600000,1636848000000,1636934400000,1637020800000,1637107200000,1637193600000,1637280000000,1637539200000,1637625600000,1637712000000,1637798400000,1637884800000,1637971200000,1638230400000,1638316800000,1638835200000,1638921600000,1639008000000],
   "labelExpr":"utcFormat(datum.value, '%Y/%m/%-d')","labelAngle":-45,"labelAlign":"right","labelBaseline":"middle","labelFont":"Liberation Sans","labelFontSize":21,"labelColor":"black","labelPadding":4,"labelOverlap":false,"labelBound":false,"labelFlush":false,"tickSize":9,"tickWidth":2,"tickColor":"black","domain":false,"grid":false,"title":null}}
},
"layer":[
{"data":{"name":"shade","format":{"parse":{"t":"date","t2":"date"}}},"mark":{"type":"rect","color":"#dcdcdc"},
 "encoding":{"x2":{"field":"t2"}}},
{"data":{"name":"d","format":{"parse":{"t":"date"}}},"mark":{"type":"area","color":"#ffc4c4","opacity":1},
 "encoding":{
  "y":{"field":"lo","type":"quantitative","scale":{"domain":[-1,60],"nice":false,"zero":false},
   "axis":{"values":[0,10,20,30,40,50,60],"labelFont":"Liberation Sans","labelFontSize":23,"labelColor":"black","labelPadding":3,"tickSize":12,"tickWidth":1.5,"tickColor":"black","domainColor":"black","domainWidth":2,"grid":false,
    "title":"P(O₃)ₙₑₜ (ppbv h⁻¹)","titleFont":"Liberation Sans","titleFontSize":23,"titleFontWeight":"normal","titleColor":"black","titleX":-65,"titleY":248,"titleAngle":-90,"titleAlign":"center","titleBaseline":"middle"}},
  "y2":{"field":"hi"},
  "detail":{"field":"s","type":"nominal"}}},
{"data":{"name":"seg","format":{"parse":{"t":"date","t2":"date"}}},"mark":{"type":"rule","color":"#999999","strokeWidth":1},
 "encoding":{"x2":{"field":"t2"},"y":{"datum":-1,"type":"quantitative","scale":{"domain":[-1,60],"nice":false,"zero":false}}}},
{"data":{"name":"gap","format":{"parse":{"t":"date","t2":"date"}}},"mark":{"type":"rule","color":"black","strokeWidth":1.5,"strokeDash":[4,4]},
 "encoding":{"x2":{"field":"t2"},"y":{"datum":-1,"type":"quantitative","scale":{"domain":[-1,60],"nice":false,"zero":false}}}},
{"data":{"name":"d","format":{"parse":{"t":"date"}}},"mark":{"type":"line","strokeWidth":2},
 "encoding":{
  "y":{"field":"m","type":"quantitative","scale":{"domain":[-1,60],"nice":false,"zero":false}},
  "detail":{"field":"s","type":"nominal"},
  "color":{"datum":"P(O₃)ₙₑₜ measured","scale":{"domain":["P(O₃)ₙₑₜ measured","P(O₃)ₙₑₜ modelled"],"range":["#ff0000","#000000"]},
   "legend":{"orient":"none","legendX":555,"legendY":15,"title":null,"symbolType":"stroke","symbolSize":1089,"symbolStrokeWidth":2,"labelFont":"Liberation Sans","labelFontSize":23,"labelColor":"black","labelLimit":0,"labelOffset":7,"rowPadding":-9,"padding":0}}}},
{"data":{"name":"d","format":{"parse":{"t":"date"}}},"mark":{"type":"line","strokeWidth":2.5},
 "encoding":{
  "y":{"field":"md","type":"quantitative","scale":{"domain":[-1,60],"nice":false,"zero":false}},
  "detail":{"field":"s","type":"nominal"},
  "color":{"datum":"P(O₃)ₙₑₜ modelled"}}},
{"data":{"name":"seg","format":{"parse":{"t":"date","t2":"date"}}},"mark":{"type":"rule","color":"black","strokeWidth":2},
 "encoding":{"x2":{"field":"t2"},"y":{"datum":60,"type":"quantitative","scale":{"domain":[-1,60],"nice":false,"zero":false}}}},
{"data":{"name":"gap","format":{"parse":{"t":"date","t2":"date"}}},"mark":{"type":"rule","color":"black","strokeWidth":1.5,"strokeDash":[7,3,2,3,2,3]},
 "encoding":{"x2":{"field":"t2"},"y":{"datum":60,"type":"quantitative","scale":{"domain":[-1,60],"nice":false,"zero":false}}}}
]
}
